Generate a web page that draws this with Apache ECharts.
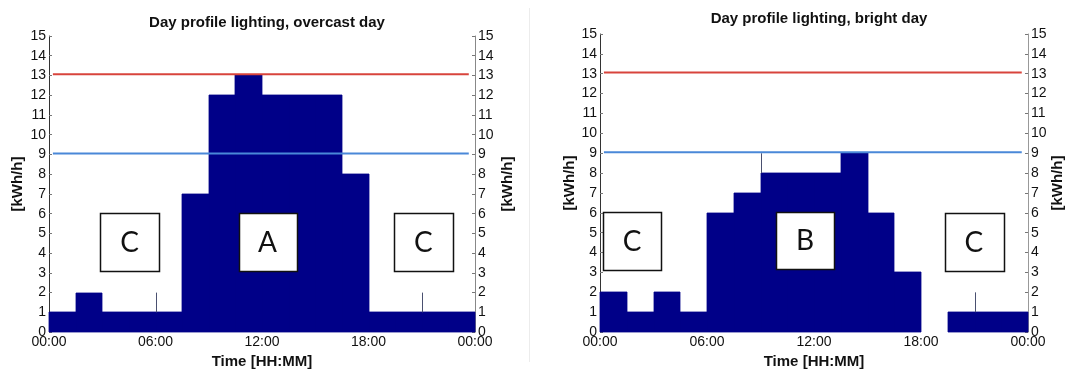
<!DOCTYPE html>
<html>
<head>
<meta charset="utf-8">
<script src="https://cdn.jsdelivr.net/npm/echarts@6/dist/echarts.min.js"></script>
<style>
html,body{margin:0;padding:0;background:#fff;}
#chart{width:1067px;height:374px;}
</style>
</head>
<body>
<div id="chart"></div>
<script>
// ---------- data ----------
const slotStart = [0, 1.5, 3, 4.5, 6, 7.5, 9, 10.5, 12, 13.5, 15, 16.5, 18, 19.5, 21, 22.5];
const slotWidth = 1.5;
const overcastValues = [1, 2, 1, 1, 1, 7, 12, 13, 12, 12, 12, 8, 1, 1, 1, 1];
const brightValues   = [2, 1, 2, 1, 6, 7, 8, 8, 8, 9, 6, 3, 0, 1, 1, 1];
const xTickLabels = ['00:00', '06:00', '12:00', '18:00', '00:00'];
const titles = ['Day profile lighting, overcast day', 'Day profile lighting, bright day'];
const yName = '[kWh/h]';
const xName = 'Time [HH:MM]';
const redLevel = 13.06;
const blueLevel = 9.05;
const refLineSpan = [0.22, 23.65];
// thin stems [hour, from, to]
const overcastStems = [[6, 1, 2], [21, 1, 2]];
const brightStems = [[9, 8, 9], [21, 1, 2]];
// annotation boxes in data units
const overcastBoxLabels = ['C', 'A', 'C'];
const overcastBoxX = [[2.88, 6.19], [10.68, 13.94], [19.43, 22.75]];
const overcastBoxY = [[3.12, 6.05], [3.10, 6.03], [3.12, 6.05]];
const brightBoxLabels = ['C', 'B', 'C'];
const brightBoxX = [[0.16, 3.44], [9.86, 13.13], [19.32, 22.61]];
const brightBoxY = [[3.13, 6.03], [3.20, 6.06], [3.10, 6.01]];

// ---------- build ----------
const NAVY = '#000088';
const FONT = 'Liberation Sans, Arial, sans-serif';

function barSeries(values, idx) {
  return {
    type: 'custom',
    xAxisIndex: idx, yAxisIndex: idx * 2,
    z: 2,
    data: slotStart.map((s, i) => [s, values[i]]),
    renderItem: function (params, api) {
      const s = api.value(0), v = api.value(1);
      if (!v) return null;
      const p0 = api.coord([s, 0]);
      const p1 = api.coord([s + slotWidth, v]);
      const x0 = Math.round(p0[0]), x1 = Math.round(p1[0]);
      const yb = Math.round(p0[1]), yt = Math.round(p1[1]);
      return {
        type: 'rect',
        shape: { x: x0, y: yt, width: x1 - x0, height: yb - yt },
        style: { fill: NAVY, stroke: NAVY, lineWidth: 0.8 }
      };
    }
  };
}
function stemSeries(stems, idx) {
  return {
    type: 'custom',
    xAxisIndex: idx, yAxisIndex: idx * 2,
    z: 3,
    data: stems,
    renderItem: function (params, api) {
      const a = api.coord([api.value(0), api.value(1)]);
      const b = api.coord([api.value(0), api.value(2)]);
      const x = Math.round(a[0]) + 0.5;
      return {
        type: 'line',
        shape: { x1: x, y1: a[1], x2: x, y2: b[1] },
        style: { stroke: '#4a5070', lineWidth: 1 }
      };
    }
  };
}
function refLine(level, color, idx) {
  return {
    type: 'line',
    xAxisIndex: idx, yAxisIndex: idx * 2,
    z: 4,
    symbol: 'none',
    silent: true,
    lineStyle: { color: color, width: 2 },
    data: [[refLineSpan[0], level], [refLineSpan[1], level]]
  };
}
function boxSeries(labels, xs, ys, idx) {
  return {
    type: 'custom',
    xAxisIndex: idx, yAxisIndex: idx * 2,
    z: 5,
    data: labels.map((l, i) => [xs[i][0], xs[i][1], ys[i][0], ys[i][1], l]),
    renderItem: function (params, api) {
      const a = api.coord([api.value(0), api.value(3)]);
      const b = api.coord([api.value(1), api.value(2)]);
      const lab = labels[params.dataIndex];
      return {
        type: 'group',
        children: [
          {
            type: 'rect',
            shape: { x: Math.round(a[0]) + 0.5, y: Math.round(a[1]) + 0.5, width: Math.round(b[0] - a[0]), height: Math.round(b[1] - a[1]) },
            style: { fill: '#ffffff', stroke: '#111111', lineWidth: 1.5 }
          },
          {
            type: 'text',
            style: {
              text: lab, x: (a[0] + b[0]) / 2, y: (a[1] + b[1]) / 2 + 1,
              align: 'center', verticalAlign: 'middle',
              font: '28px Lato, "Open Sans", sans-serif', fill: '#111111'
            }
          }
        ]
      };
    }
  };
}

const grids = [
  { left: 49, top: 36, width: 426, height: 302 },
  { left: 600, top: 34, width: 428, height: 304 }
];

function xAxisDef(idx) {
  return {
    type: 'value', gridIndex: idx, min: 0, max: 24, interval: 6,
    axisLine: { show: false }, axisTick: { show: false }, splitLine: { show: false },
    axisLabel: {
      margin: 3, color: '#111', fontSize: 14, fontFamily: FONT,
      formatter: function (v, i) { return xTickLabels[i]; }
    },
    name: xName, nameLocation: 'middle', nameGap: 14,
    nameTextStyle: { fontSize: 15, fontWeight: 'bold', color: '#111', fontFamily: FONT }
  };
}
function yAxisDef(idx, pos, lineColor, gap) {
  return {
    type: 'value', gridIndex: idx, position: pos, min: 0, max: 15, interval: 1,
    axisLine: { show: true, lineStyle: { color: lineColor, width: 1 } },
    axisTick: { show: true, inside: true, length: 3, lineStyle: { color: '#777' } },
    splitLine: { show: false },
    axisLabel: { margin: 3, color: '#111', fontSize: 14, fontFamily: FONT },
    name: yName, nameLocation: 'middle', nameRotate: 90, nameGap: gap,
    nameTextStyle: { fontSize: 15, fontWeight: 'bold', color: '#111', fontFamily: FONT }
  };
}

const option = {
  animation: false,
  backgroundColor: '#ffffff',
  title: [
    { text: titles[0], left: 262, top: 10, textAlign: 'center',
      textStyle: { fontSize: 15, fontWeight: 'bold', color: '#111', fontFamily: FONT } },
    { text: titles[1], left: 814, top: 6, textAlign: 'center',
      textStyle: { fontSize: 15, fontWeight: 'bold', color: '#111', fontFamily: FONT } }
  ],
  grid: grids,
  xAxis: [xAxisDef(0), xAxisDef(1)],
  yAxis: [
    yAxisDef(0, 'left', '#333', 24),
    yAxisDef(0, 'right', '#888', 25),
    yAxisDef(1, 'left', '#333', 22),
    yAxisDef(1, 'right', '#999', 22)
  ],
  graphic: [
    { type: 'line', shape: { x1: 529.5, y1: 8, x2: 529.5, y2: 362 }, style: { stroke: '#ececec', lineWidth: 1 } }
  ],
  series: [
    barSeries(overcastValues, 0),
    stemSeries(overcastStems, 0),
    refLine(redLevel, '#d8443c', 0),
    refLine(blueLevel, '#4a88d8', 0),
    boxSeries(overcastBoxLabels, overcastBoxX, overcastBoxY, 0),
    barSeries(brightValues, 1),
    stemSeries(brightStems, 1),
    refLine(redLevel, '#d8443c', 1),
    refLine(blueLevel, '#4a88d8', 1),
    boxSeries(brightBoxLabels, brightBoxX, brightBoxY, 1)
  ]
};

const chart = echarts.init(document.getElementById('chart'), null, { renderer: 'canvas' });
chart.setOption(option);
</script>
</body>
</html>
